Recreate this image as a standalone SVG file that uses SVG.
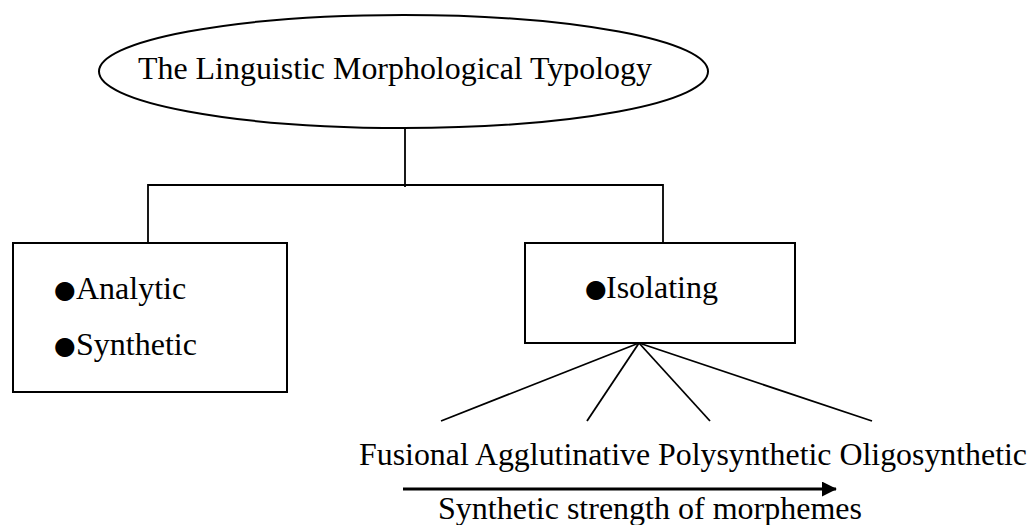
<svg xmlns="http://www.w3.org/2000/svg" width="1035" height="525" viewBox="0 0 1035 525">
  <style>
    .shape { fill: #ffffff; stroke: #000000; stroke-width: 2; }
    .conn { fill: none; stroke: #000000; stroke-width: 1.8; }
    .t { font-family: "Liberation Serif", "Times New Roman", serif; font-size: 32px; fill: #000000; }
    .b { font-family: "DejaVu Sans", sans-serif; font-size: 25px; }
  </style>
  <defs>
    <marker id="arrowhead" markerWidth="5" markerHeight="5" refX="4.7" refY="2.5" orient="auto" markerUnits="strokeWidth">
      <polygon points="0,0 5,2.5 0,5" fill="#000000"/>
    </marker>
  </defs>
  <rect width="1035" height="525" fill="#ffffff"/>

  <g id="connectors">
    <line class="conn" x1="405" y1="128" x2="405" y2="187"/>
    <polyline class="conn" points="148,243 148,185 663,185 663,243"/>
    <line class="conn" x1="639" y1="343" x2="441" y2="421"/>
    <line class="conn" x1="639" y1="343" x2="587" y2="421"/>
    <line class="conn" x1="639" y1="343" x2="710" y2="421"/>
    <line class="conn" x1="639" y1="343" x2="872" y2="421"/>
    <line x1="403" y1="489" x2="836" y2="489" stroke="#000000" stroke-width="3" marker-end="url(#arrowhead)"/>
  </g>

  <g id="node-root">
    <ellipse class="shape" cx="403.5" cy="71.5" rx="304.5" ry="56.5"/>
    <text class="t" x="138" y="79" textLength="514" lengthAdjust="spacingAndGlyphs">The Linguistic Morphological Typology</text>
  </g>

  <g id="node-analytic-synthetic">
    <rect class="shape" x="13" y="243" width="274" height="149"/>
    <text class="t" y="299"><tspan class="b" x="54" dy="-1">●</tspan><tspan x="76" dy="1">Analytic</tspan></text>
    <text class="t" y="355"><tspan class="b" x="54" dy="-1">●</tspan><tspan x="76" dy="1">Synthetic</tspan></text>
  </g>

  <g id="node-isolating">
    <rect class="shape" x="525" y="243" width="270" height="100"/>
    <text class="t" y="298"><tspan class="b" x="585" dy="-1">●</tspan><tspan x="606" dy="1">Isolating</tspan></text>
  </g>

  <g id="node-types">
    <text class="t" x="359" y="465" textLength="668" lengthAdjust="spacingAndGlyphs">Fusional Agglutinative Polysynthetic Oligosynthetic</text>
  </g>

  <g id="node-axis-label">
    <text class="t" x="438" y="519">Synthetic strength of morphemes</text>
  </g>
</svg>
